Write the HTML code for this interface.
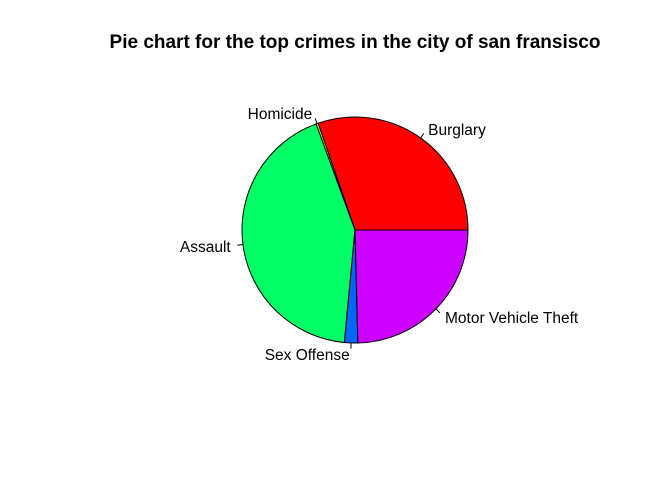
<!DOCTYPE html>
<html><head><meta charset="utf-8"><style>
body{margin:0;background:#fff}
svg text{font-family:"Liberation Sans",Arial,sans-serif}
</style></head><body>
<svg id="chart" width="672" height="480">
<text x="355" y="48" text-anchor="middle" font-size="19" font-weight="bold">Pie chart for the top crimes in the city of san fransisco</text>
<g id="slices"></g>
</svg>
<script>
const categories = ["Burglary","Homicide","Assault","Sex Offense","Motor Vehicle Theft"];
const values = [30.3, 0.3, 42.9, 1.9, 24.6];
const colors = ["#FF0000","#CCFF00","#00FF66","#0066FF","#CC00FF"];
const cx=355, cy=230, r=113;
const ns="http://www.w3.org/2000/svg";
const g=document.getElementById('slices');
const total=values.reduce((a,b)=>a+b,0);
let start=0;
function pt(a,rr){return [cx+rr*Math.cos(a), cy-rr*Math.sin(a)];}
values.forEach((v,i)=>{
  const a0=start/total*2*Math.PI, a1=(start+v)/total*2*Math.PI;
  start+=v;
  const p0=pt(a0,r), p1=pt(a1,r);
  const large=(a1-a0)>Math.PI?1:0;
  const path=document.createElementNS(ns,'path');
  path.setAttribute('d',`M${cx},${cy}L${p0[0]},${p0[1]}A${r},${r} 0 ${large} 0 ${p1[0]},${p1[1]}Z`);
  path.setAttribute('fill',colors[i]);
  path.setAttribute('stroke','#000');
  path.setAttribute('stroke-width','1');
  
  
  g.appendChild(path);
  const am=(a0+a1)/2;
  const q0=pt(am,r), q1=pt(am,r*1.05), q2=pt(am,r*1.1);
  const ln=document.createElementNS(ns,'line');
  ln.setAttribute('x1',q0[0]);ln.setAttribute('y1',q0[1]);
  ln.setAttribute('x2',q1[0]);ln.setAttribute('y2',q1[1]);
  ln.setAttribute('stroke','#000');
  
  
  g.appendChild(ln);
  const t=document.createElementNS(ns,'text');
  t.setAttribute('x',q2[0]+(Math.cos(am)>0?1:-1));
  t.setAttribute('y',q2[1]+6);
  t.setAttribute('font-size','15.5');
  t.setAttribute('text-anchor',Math.cos(am)>0?'start':'end');
  t.textContent=categories[i];
  
  
  g.appendChild(t);
});
</script>
</body></html>
